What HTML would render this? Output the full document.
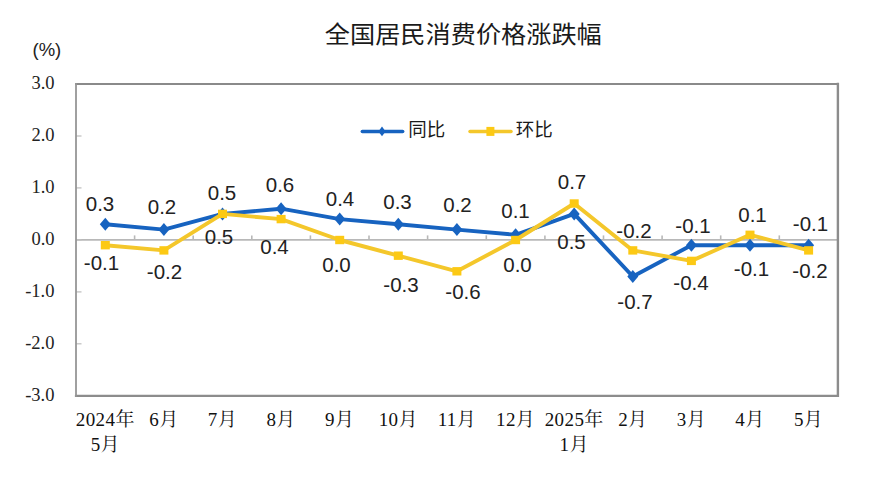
<!DOCTYPE html>
<html lang="zh-CN">
<head>
<meta charset="utf-8">
<title>全国居民消费价格涨跌幅</title>
<style>
html,body{margin:0;padding:0;background:#fff;}
body{width:872px;height:500px;overflow:hidden;}
svg{display:block;}
.title{font-family:"Liberation Sans","Noto Sans CJK SC",sans-serif;font-size:25.2px;fill:#1a1a1a;}
.unit{font-family:"Liberation Sans",sans-serif;font-size:18.5px;fill:#222;}
.ytick{font-family:"Liberation Serif",serif;font-size:18.5px;fill:#222;}
.dl{font-family:"Liberation Sans",sans-serif;font-size:20.5px;fill:#222;}
.xl{font-family:"Liberation Serif","Noto Serif CJK SC",serif;font-size:19px;fill:#111;letter-spacing:0.4px;}
.lg{font-family:"Liberation Sans","Noto Sans CJK SC",sans-serif;font-size:18.5px;fill:#1a1a1a;}
</style>
</head>
<body>
<svg xmlns="http://www.w3.org/2000/svg" width="872" height="500" viewBox="0 0 872 500">
<rect x="0" y="0" width="872" height="500" fill="#ffffff"/>
<text class="title" transform="translate(463.3,43.4) scale(1,0.94)" x="0" y="0" text-anchor="middle">全国居民消费价格涨跌幅</text>
<text class="unit" x="32.5" y="56">(%)</text>
<g stroke="#b8b8b8" stroke-width="1.6" fill="none">
<line x1="76.0" y1="239.9" x2="837.9" y2="239.9"/>
<line x1="134.6" y1="239.9" x2="134.6" y2="235.4"/>
<line x1="193.2" y1="239.9" x2="193.2" y2="235.4"/>
<line x1="251.8" y1="239.9" x2="251.8" y2="235.4"/>
<line x1="310.4" y1="239.9" x2="310.4" y2="235.4"/>
<line x1="369.0" y1="239.9" x2="369.0" y2="235.4"/>
<line x1="427.6" y1="239.9" x2="427.6" y2="235.4"/>
<line x1="486.3" y1="239.9" x2="486.3" y2="235.4"/>
<line x1="544.9" y1="239.9" x2="544.9" y2="235.4"/>
<line x1="603.5" y1="239.9" x2="603.5" y2="235.4"/>
<line x1="662.1" y1="239.9" x2="662.1" y2="235.4"/>
<line x1="720.7" y1="239.9" x2="720.7" y2="235.4"/>
<line x1="779.3" y1="239.9" x2="779.3" y2="235.4"/>
<line x1="76.0" y1="395.8" x2="81.5" y2="395.8" stroke="#c2c2c2" stroke-width="1.3"/>
<line x1="76.0" y1="343.8" x2="81.5" y2="343.8" stroke="#c2c2c2" stroke-width="1.3"/>
<line x1="76.0" y1="291.9" x2="81.5" y2="291.9" stroke="#c2c2c2" stroke-width="1.3"/>
<line x1="76.0" y1="239.9" x2="81.5" y2="239.9" stroke="#c2c2c2" stroke-width="1.3"/>
<line x1="76.0" y1="187.9" x2="81.5" y2="187.9" stroke="#c2c2c2" stroke-width="1.3"/>
<line x1="76.0" y1="136.0" x2="81.5" y2="136.0" stroke="#c2c2c2" stroke-width="1.3"/>
<line x1="76.0" y1="84.0" x2="81.5" y2="84.0" stroke="#c2c2c2" stroke-width="1.3"/>
</g>
<g fill="none" stroke-linecap="square">
<line x1="76.0" y1="84.0" x2="837.9" y2="84.0" stroke="#8a8a8a" stroke-width="2"/>
<line x1="837.9" y1="84.0" x2="837.9" y2="395.8" stroke="#8c8c8c" stroke-width="2.4"/>
<line x1="76.0" y1="395.8" x2="837.9" y2="395.8" stroke="#8c8c8c" stroke-width="2.2"/>
<line x1="76.0" y1="84.0" x2="76.0" y2="395.8" stroke="#969696" stroke-width="1.8"/>
</g>
<text class="ytick" x="54.5" y="401.0" text-anchor="end">-3.0</text>
<text class="ytick" x="54.5" y="349.0" text-anchor="end">-2.0</text>
<text class="ytick" x="54.5" y="297.1" text-anchor="end">-1.0</text>
<text class="ytick" x="54.5" y="245.1" text-anchor="end">0.0</text>
<text class="ytick" x="54.5" y="193.1" text-anchor="end">1.0</text>
<text class="ytick" x="54.5" y="141.2" text-anchor="end">2.0</text>
<text class="ytick" x="54.5" y="89.2" text-anchor="end">3.0</text>
<polyline points="105.3,224.3 163.9,229.6 222.5,213.9 281.1,208.7 339.7,219.1 398.3,224.3 456.9,229.6 515.6,234.8 574.2,213.9 632.8,276.5 691.4,245.2 750.0,245.2 808.6,245.2" fill="none" stroke="#1763c0" stroke-width="3.9" stroke-linejoin="round" stroke-linecap="round"/>
<path d="M105.3 217.8L110.8 224.3L105.3 230.8L99.8 224.3Z" fill="#1763c0"/>
<path d="M163.9 223.1L169.4 229.6L163.9 236.1L158.4 229.6Z" fill="#1763c0"/>
<path d="M222.5 207.4L228.0 213.9L222.5 220.4L217.0 213.9Z" fill="#1763c0"/>
<path d="M281.1 202.2L286.6 208.7L281.1 215.2L275.6 208.7Z" fill="#1763c0"/>
<path d="M339.7 212.6L345.2 219.1L339.7 225.6L334.2 219.1Z" fill="#1763c0"/>
<path d="M398.3 217.8L403.8 224.3L398.3 230.8L392.8 224.3Z" fill="#1763c0"/>
<path d="M456.9 223.1L462.4 229.6L456.9 236.1L451.4 229.6Z" fill="#1763c0"/>
<path d="M515.6 228.3L521.1 234.8L515.6 241.3L510.1 234.8Z" fill="#1763c0"/>
<path d="M574.2 207.4L579.7 213.9L574.2 220.4L568.7 213.9Z" fill="#1763c0"/>
<path d="M632.8 270.0L638.3 276.5L632.8 283.0L627.3 276.5Z" fill="#1763c0"/>
<path d="M691.4 238.7L696.9 245.2L691.4 251.7L685.9 245.2Z" fill="#1763c0"/>
<path d="M750.0 238.7L755.5 245.2L750.0 251.7L744.5 245.2Z" fill="#1763c0"/>
<path d="M808.6 238.7L814.1 245.2L808.6 251.7L803.1 245.2Z" fill="#1763c0"/>
<polyline points="105.3,245.2 163.9,250.4 222.5,213.9 281.1,219.1 339.7,240.0 398.3,255.7 456.9,271.3 515.6,240.0 574.2,203.5 632.8,250.4 691.4,260.9 750.0,234.8 808.6,250.4" fill="none" stroke="#f4c72b" stroke-width="3.9" stroke-linejoin="round" stroke-linecap="round"/>
<rect x="100.8" y="241.0" width="9" height="8.4" fill="#fcc914"/>
<rect x="159.4" y="246.2" width="9" height="8.4" fill="#fcc914"/>
<rect x="218.0" y="209.7" width="9" height="8.4" fill="#fcc914"/>
<rect x="276.6" y="214.9" width="9" height="8.4" fill="#fcc914"/>
<rect x="335.2" y="235.8" width="9" height="8.4" fill="#fcc914"/>
<rect x="393.8" y="251.5" width="9" height="8.4" fill="#fcc914"/>
<rect x="452.4" y="267.1" width="9" height="8.4" fill="#fcc914"/>
<rect x="511.1" y="235.8" width="9" height="8.4" fill="#fcc914"/>
<rect x="569.7" y="199.3" width="9" height="8.4" fill="#fcc914"/>
<rect x="628.3" y="246.2" width="9" height="8.4" fill="#fcc914"/>
<rect x="686.9" y="256.7" width="9" height="8.4" fill="#fcc914"/>
<rect x="745.5" y="230.6" width="9" height="8.4" fill="#fcc914"/>
<rect x="804.1" y="246.2" width="9" height="8.4" fill="#fcc914"/>
<line x1="362.3" y1="131.4" x2="402.7" y2="131.4" stroke="#1763c0" stroke-width="3.5" stroke-linecap="round"/>
<path d="M382 126.6L385.6 131.4L382 136.2L378.4 131.4Z" fill="#1763c0"/>
<text class="lg" x="408.3" y="136.4">同比</text>
<line x1="470" y1="131.4" x2="511" y2="131.4" stroke="#f4c72b" stroke-width="3.5" stroke-linecap="round"/>
<rect x="486.4" y="126.9" width="8" height="9" fill="#fcc914"/>
<text class="lg" x="515.8" y="136.4">环比</text>
<text class="dl" x="100" y="211" text-anchor="middle">0.3</text>
<text class="dl" x="162" y="214" text-anchor="middle">0.2</text>
<text class="dl" x="222" y="200" text-anchor="middle">0.5</text>
<text class="dl" x="280" y="192" text-anchor="middle">0.6</text>
<text class="dl" x="340" y="206" text-anchor="middle">0.4</text>
<text class="dl" x="397.5" y="208.5" text-anchor="middle">0.3</text>
<text class="dl" x="457.5" y="211.5" text-anchor="middle">0.2</text>
<text class="dl" x="515.5" y="217.5" text-anchor="middle">0.1</text>
<text class="dl" x="572" y="189" text-anchor="middle">0.7</text>
<text class="dl" x="635" y="309" text-anchor="middle">-0.7</text>
<text class="dl" x="693" y="233" text-anchor="middle">-0.1</text>
<text class="dl" x="751.5" y="276" text-anchor="middle">-0.1</text>
<text class="dl" x="810.5" y="231" text-anchor="middle">-0.1</text>
<text class="dl" x="101.5" y="270" text-anchor="middle">-0.1</text>
<text class="dl" x="164.5" y="278.5" text-anchor="middle">-0.2</text>
<text class="dl" x="219" y="244" text-anchor="middle">0.5</text>
<text class="dl" x="274.5" y="253.5" text-anchor="middle">0.4</text>
<text class="dl" x="336.5" y="271.5" text-anchor="middle">0.0</text>
<text class="dl" x="401" y="291.5" text-anchor="middle">-0.3</text>
<text class="dl" x="463" y="298.5" text-anchor="middle">-0.6</text>
<text class="dl" x="517.5" y="271.5" text-anchor="middle">0.0</text>
<text class="dl" x="571.5" y="248.5" text-anchor="middle">0.5</text>
<text class="dl" x="634" y="237.5" text-anchor="middle">-0.2</text>
<text class="dl" x="691" y="289.5" text-anchor="middle">-0.4</text>
<text class="dl" x="752.5" y="222" text-anchor="middle">0.1</text>
<text class="dl" x="810" y="277.5" text-anchor="middle">-0.2</text>
<text class="xl" x="105.3" y="426" text-anchor="middle">2024年</text>
<text class="xl" x="105.3" y="451" text-anchor="middle">5月</text>
<text class="xl" x="163.9" y="426" text-anchor="middle">6月</text>
<text class="xl" x="222.5" y="426" text-anchor="middle">7月</text>
<text class="xl" x="281.1" y="426" text-anchor="middle">8月</text>
<text class="xl" x="339.7" y="426" text-anchor="middle">9月</text>
<text class="xl" x="398.3" y="426" text-anchor="middle">10月</text>
<text class="xl" x="456.9" y="426" text-anchor="middle">11月</text>
<text class="xl" x="515.6" y="426" text-anchor="middle">12月</text>
<text class="xl" x="574.2" y="426" text-anchor="middle">2025年</text>
<text class="xl" x="574.2" y="451" text-anchor="middle">1月</text>
<text class="xl" x="632.8" y="426" text-anchor="middle">2月</text>
<text class="xl" x="691.4" y="426" text-anchor="middle">3月</text>
<text class="xl" x="750.0" y="426" text-anchor="middle">4月</text>
<text class="xl" x="808.6" y="426" text-anchor="middle">5月</text>
</svg>
</body>
</html>
